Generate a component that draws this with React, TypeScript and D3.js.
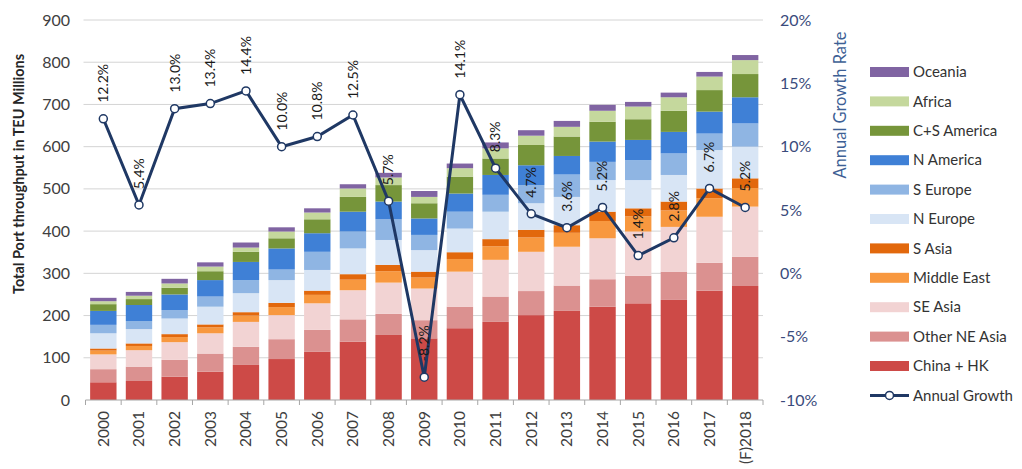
import { useEffect, useRef } from "react";
import * as d3 from "d3";

const W = 1022;
const H = 469;
const PLOT = { left: 85.5, right: 763, top: 20, bottom: 400 };
const FONT = "Lato, 'Open Sans', sans-serif";

const years = [
  "2000", "2001", "2002", "2003", "2004", "2005", "2006", "2007", "2008", "2009",
  "2010", "2011", "2012", "2013", "2014", "2015", "2016", "2017", "(F)2018",
];

// stacked bottom -> top
const seriesNames = [
  "China + HK", "Other NE Asia", "SE Asia", "Middle East", "S Asia",
  "N Europe", "S Europe", "N America", "C+S America", "Africa", "Oceania",
];
const seriesColors = [
  "#cd4a47", "#db9190", "#f2d3d3", "#f8983f", "#e2680c",
  "#d8e5f5", "#8fb5e3", "#3f80d6", "#76953a", "#c5d89d", "#8064a2",
];

const chinaHK = [42, 45, 55, 67, 83, 97, 114, 138, 154, 146, 170, 185, 201, 211, 221, 229, 237, 259, 270];
const otherNEAsia = [31, 34, 40, 43, 43, 47, 52, 53, 50, 43, 51, 60, 57, 60, 65, 65, 67, 66, 69];
const seAsia = [35, 39, 42, 48, 59, 57, 63, 69, 74, 75, 83, 87, 93, 92, 97, 105, 106, 109, 119];
const middleEast = [9, 10, 12, 14, 15, 19, 20, 25, 27, 26, 30, 32, 34, 33, 41, 36, 39, 44, 44];
const sAsia = [5, 6, 7, 7, 8, 10, 10, 13, 15, 14, 16, 17, 18, 18, 22, 19, 21, 23, 23];
const nEurope = [36, 34, 37, 42, 45, 54, 49, 61, 59, 51, 56, 65, 63, 67, 75, 67, 63, 91, 75];
const sEurope = [20, 19, 20, 24, 31, 25, 43, 40, 49, 36, 40, 40, 43, 53, 43, 47, 51, 39, 55];
const nAmerica = [33, 38, 37, 39, 43, 50, 44, 47, 42, 39, 43, 47, 47, 44, 48, 48, 51, 52, 62];
const csAmerica = [16, 14, 16, 21, 24, 24, 33, 35, 39, 36, 40, 39, 48, 46, 47, 49, 50, 51, 55];
const africa = [7, 8, 10, 11, 10, 16, 16, 20, 18, 15, 20, 24, 22, 23, 26, 30, 32, 32, 33];
const oceania = [8, 9, 11, 10, 12, 10, 10, 10, 11, 14, 11, 14, 13, 14, 14, 11, 11, 11, 12];

const growth = [12.2, 5.4, 13.0, 13.4, 14.4, 10.0, 10.8, 12.5, 5.7, -8.2, 14.1, 8.3, 4.7, 3.6, 5.2, 1.4, 2.8, 6.7, 5.2];

const leftTicks = [0, 100, 200, 300, 400, 500, 600, 700, 800, 900];
const rightTicks = [-10, -5, 0, 5, 10, 15, 20];

const LINE_COLOR = "#1f3864";

export default function App() {
  const svgRef = useRef<SVGSVGElement>(null);

  useEffect(() => {
    if (!svgRef.current) return;
    const svg = d3.select(svgRef.current);
    svg.selectAll("*").remove();

    const values = [chinaHK, otherNEAsia, seAsia, middleEast, sAsia, nEurope, sEurope, nAmerica, csAmerica, africa, oceania];
    const rows = years.map((y, i) => {
      const r: Record<string, number | string> = { year: y };
      seriesNames.forEach((s, k) => (r[s] = values[k][i]));
      return r;
    });
    const stacked = d3.stack<Record<string, number | string>>().keys(seriesNames)(rows as any);

    const x = d3.scaleBand().domain(years).range([PLOT.left, PLOT.right]).paddingInner(0.26).paddingOuter(0.13);
    const y = d3.scaleLinear().domain([0, 900]).range([PLOT.bottom, PLOT.top]);
    const y2 = d3.scaleLinear().domain([-10, 20]).range([PLOT.bottom, PLOT.top]);

    // grid
    svg.append("g")
      .selectAll("line")
      .data(leftTicks.filter((t) => t > 0))
      .join("line")
      .attr("x1", PLOT.left - 2)
      .attr("x2", PLOT.right)
      .attr("y1", (d) => y(d))
      .attr("y2", (d) => y(d))
      .attr("stroke", "#d4d4d4")
      .attr("stroke-width", 1);

    // bars
    svg.append("g")
      .selectAll("g")
      .data(stacked)
      .join("g")
      .attr("fill", (_, i) => seriesColors[i])
      .selectAll("rect")
      .data((d) => d)
      .join("rect")
      .attr("x", (d) => x(String(d.data.year)) ?? 0)
      .attr("width", x.bandwidth())
      .attr("y", (d) => y(d[1]))
      .attr("height", (d) => y(d[0]) - y(d[1]));

    // x axis
    const xAxis = svg.append("g").attr("transform", `translate(0,${PLOT.bottom})`);
    xAxis.append("line")
      .attr("x1", PLOT.left).attr("x2", PLOT.right)
      .attr("stroke", "#a6a6a6");
    const step = x.step();
    const x0 = PLOT.left + (PLOT.right - PLOT.left - step * years.length) / 2;
    xAxis.selectAll(".tk")
      .data(d3.range(years.length + 1))
      .join("line")
      .attr("x1", (i) => x0 + i * step)
      .attr("x2", (i) => x0 + i * step)
      .attr("y1", 0).attr("y2", 5)
      .attr("stroke", "#a6a6a6");
    xAxis.selectAll("text")
      .data(years)
      .join("text")
      .attr("transform", (d) => `translate(${(x(d) ?? 0) + x.bandwidth() / 2},11) rotate(-90)`)
      .attr("dy", "0.35em")
      .attr("text-anchor", "end")
      .attr("font-family", FONT)
      .attr("font-size", 15.5)
      .attr("fill", "#404040")
      .text((d) => d);

    // left axis
    svg.append("g")
      .selectAll("text")
      .data(leftTicks)
      .join("text")
      .attr("x", 70)
      .attr("y", (d) => y(d))
      .attr("dy", "0.35em")
      .attr("text-anchor", "end")
      .attr("font-family", FONT)
      .attr("font-size", 16)
      .attr("fill", "#404040")
      .text((d) => d);

    svg.append("text")
      .attr("transform", `translate(24,174) rotate(-90)`)
      .attr("text-anchor", "middle")
      .attr("font-family", FONT)
      .attr("font-weight", "bold")
      .attr("font-size", 14.5)
      .attr("fill", "#262626")
      .text("Total Port throughput in TEU Millions");

    // right axis
    svg.append("g")
      .selectAll("text")
      .data(rightTicks)
      .join("text")
      .attr("x", 780)
      .attr("y", (d) => y2(d))
      .attr("dy", "0.35em")
      .attr("text-anchor", "start")
      .attr("font-family", FONT)
      .attr("font-size", 16)
      .attr("fill", "#3a4b7c")
      .text((d) => `${d}%`);

    svg.append("text")
      .attr("transform", `translate(846,105) rotate(-90)`)
      .attr("text-anchor", "middle")
      .attr("font-family", FONT)
      .attr("font-size", 16.5)
      .attr("fill", "#3d5f95")
      .text("Annual Growth Rate");

    // growth line
    const cx = (i: number) => (x(years[i]) ?? 0) + x.bandwidth() / 2;
    const line = d3.line<number>().x((_, i) => cx(i)).y((d) => y2(d));
    svg.append("path")
      .datum(growth)
      .attr("d", line)
      .attr("fill", "none")
      .attr("stroke", LINE_COLOR)
      .attr("stroke-width", 3);

    svg.append("g")
      .selectAll("circle")
      .data(growth)
      .join("circle")
      .attr("cx", (_, i) => cx(i))
      .attr("cy", (d) => y2(d))
      .attr("r", 4)
      .attr("fill", "#fff")
      .attr("stroke", LINE_COLOR)
      .attr("stroke-width", 1.5);

    svg.append("g")
      .selectAll("text")
      .data(growth)
      .join("text")
      .attr("transform", (d, i) => `translate(${cx(i)},${y2(d) - 16}) rotate(-90)`)
      .attr("dy", "0.35em")
      .attr("text-anchor", "start")
      .attr("font-family", FONT)
      .attr("font-size", 14)
      .attr("fill", "#1a1a1a")
      .text((d) => `${d.toFixed(1)}%`);

    // legend
    const legendRows = [...seriesNames].reverse().map((name) => ({
      name,
      color: seriesColors[seriesNames.indexOf(name)],
    }));
    const lg = svg.append("g").attr("transform", "translate(870,72)");
    const rowH = 29.4;
    legendRows.forEach((r, i) => {
      lg.append("rect")
        .attr("x", 0).attr("y", i * rowH - 5)
        .attr("width", 39).attr("height", 10)
        .attr("fill", r.color);
      lg.append("text")
        .attr("x", 43).attr("y", i * rowH)
        .attr("dy", "0.35em")
        .attr("font-family", FONT)
        .attr("font-size", 15)
        .attr("fill", "#333")
        .text(r.name);
    });
    const gy = legendRows.length * rowH;
    lg.append("line")
      .attr("x1", 0).attr("x2", 39).attr("y1", gy).attr("y2", gy)
      .attr("stroke", LINE_COLOR).attr("stroke-width", 3);
    lg.append("circle")
      .attr("cx", 19.5).attr("cy", gy).attr("r", 4)
      .attr("fill", "#fff").attr("stroke", LINE_COLOR).attr("stroke-width", 1.5);
    lg.append("text")
      .attr("x", 43).attr("y", gy)
      .attr("dy", "0.35em")
      .attr("font-family", FONT)
      .attr("font-size", 15)
      .attr("fill", "#333")
      .text("Annual Growth");
  }, []);

  return (
    <svg
      ref={svgRef}
      width={W}
      height={H}
      style={{ position: "absolute", left: 0, top: 0, display: "block", background: "#fff" }}
    />
  );
}
